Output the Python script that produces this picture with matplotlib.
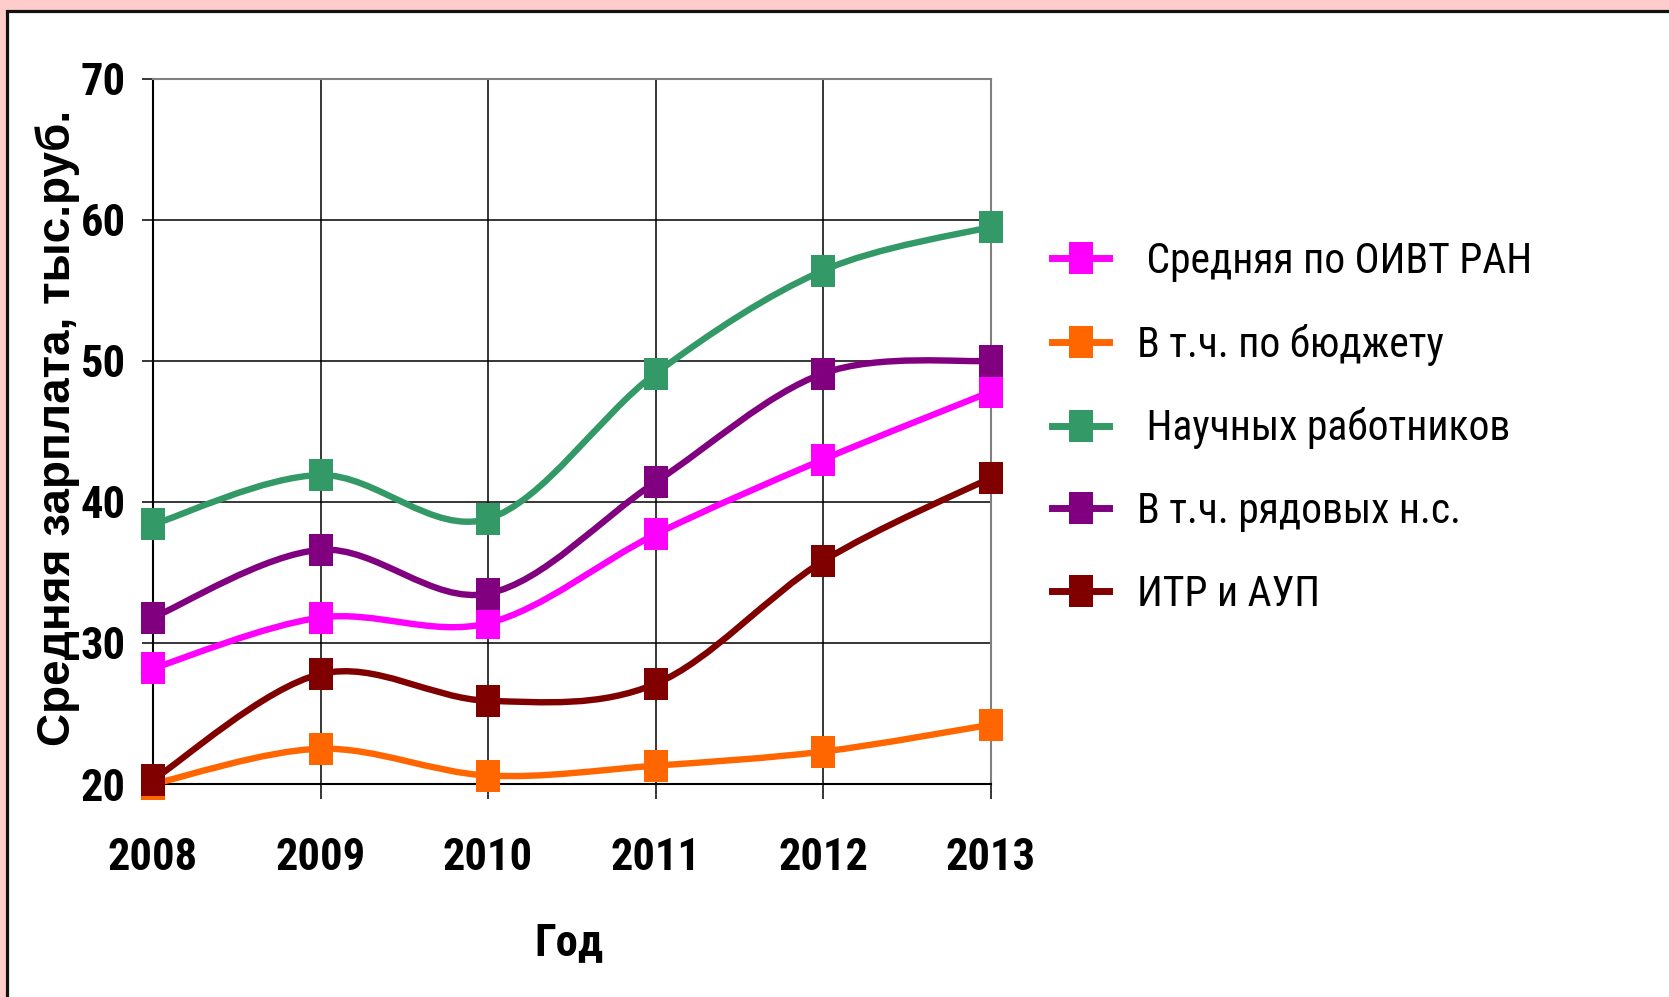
import matplotlib
matplotlib.use("Agg")
import matplotlib.pyplot as plt
from matplotlib.path import Path
from matplotlib.patches import PathPatch, Rectangle
from matplotlib.lines import Line2D
from matplotlib import font_manager

# ---------------- data ----------------
years = [2008, 2009, 2010, 2011, 2012, 2013]
series_names = [" Средняя по ОИВТ РАН", "В т.ч. по бюджету", " Научных работников",
                "В т.ч. рядовых н.с.", "ИТР и АУП"]
avg_oivt = [28.2, 31.8, 31.4, 37.7, 43.0, 47.8]
budget = [20.0, 22.5, 20.6, 21.3, 22.3, 24.2]
scientists = [38.4, 41.9, 38.8, 49.1, 56.4, 59.5]
rank_file = [31.8, 36.6, 33.5, 41.4, 49.1, 50.0]
itr_aup = [20.3, 27.8, 25.9, 27.1, 35.8, 41.7]
series_values = [avg_oivt, budget, scientists, rank_file, itr_aup]
colors = ["#FF00FF", "#FF6600", "#339966", "#800080", "#800000"]
y_ticks = [20, 30, 40, 50, 60, 70]
y_label = "Средняя зарплата, тыс.руб."
x_label = "Год"

# ---------------- fonts ----------------
names = {f.name for f in font_manager.fontManager.ttflist}
NARROW = next((n for n in ["Roboto Condensed", "PT Sans Narrow", "Liberation Sans Narrow"]
               if n in names), "Liberation Sans")
WIDE = "Liberation Sans"

W, H = 1669, 997
fig = plt.figure(figsize=(W / 100, H / 100), dpi=100)
fig.patch.set_facecolor("#FFCCCC")
fig.patches.append(Rectangle((7 / W, -0.1), 1.2, 1 - 11 / H + 0.1, transform=fig.transFigure,
                             facecolor="white", edgecolor="#111111", linewidth=2.3, zorder=-5))

ax = fig.add_axes([153 / W, 1 - 784 / H, (990.5 - 153) / W, (784 - 78.7) / H])
ax.set_facecolor("white")
ax.set_xlim(years[0], years[-1])
ax.set_ylim(y_ticks[0], y_ticks[-1])
ax.set_xticks(years)
ax.set_yticks(y_ticks)
ax.set_axisbelow(True)
ax.grid(True, color="black", linewidth=1.1)
for s in ["left", "bottom"]:
    ax.spines[s].set_color("black")
    ax.spines[s].set_linewidth(1.5)
for s in ["top", "right"]:
    ax.spines[s].set_color("#808080")
    ax.spines[s].set_linewidth(1.5)
ax.tick_params(axis="y", direction="out", length=8, width=1.1, pad=11.5)
ax.tick_params(axis="x", direction="out", length=11, width=1.1, pad=27)
for lab in ax.get_xticklabels() + ax.get_yticklabels():
    lab.set_fontfamily(NARROW)
    lab.set_fontweight("bold")
    lab.set_fontsize(32)


def smooth_path(xs, ys):
    """Excel-like smoothed line: cubic Bezier segments with Catmull-Rom tangents."""
    n = len(xs)
    pts = list(zip(xs, ys))
    verts = [pts[0]]
    codes = [Path.MOVETO]
    for i in range(n - 1):
        p0 = pts[i - 1] if i > 0 else pts[i]
        p1 = pts[i]
        p2 = pts[i + 1]
        p3 = pts[i + 2] if i + 2 < n else pts[i + 1]
        c1 = (p1[0] + (p2[0] - p0[0]) / 6, p1[1] + (p2[1] - p0[1]) / 6)
        c2 = (p2[0] - (p3[0] - p1[0]) / 6, p2[1] - (p3[1] - p1[1]) / 6)
        verts += [c1, c2, p2]
        codes += [Path.CURVE4] * 3
    return Path(verts, codes)


rect = Path([(-0.375, -0.5), (0.375, -0.5), (0.375, 0.5), (-0.375, 0.5), (-0.375, -0.5)],
            [Path.MOVETO, Path.LINETO, Path.LINETO, Path.LINETO, Path.CLOSEPOLY])
LW = 4.6
MS = 23
handles = []
for vals, col in zip(series_values, colors):
    ax.add_patch(PathPatch(smooth_path(years, vals), facecolor="none", edgecolor=col,
                           linewidth=LW, transform=ax.transData, zorder=3, clip_on=False,
                           joinstyle="round", capstyle="round"))
for vals, col in zip(series_values, colors):
    ax.plot(years, vals, linestyle="none", marker=rect, markersize=MS,
            markerfacecolor=col, markeredgecolor=col, markeredgewidth=0,
            zorder=4, clip_on=False)
    handles.append(Line2D([], [], color=col, linewidth=5, marker=rect, markersize=MS,
                          markerfacecolor=col, markeredgewidth=0))

ax.legend(handles, series_names, loc="upper left",
          bbox_to_anchor=(1052 / W, 1 - 241 / H), bbox_transform=fig.transFigure,
          frameon=False, borderpad=0, borderaxespad=0, numpoints=1,
          handlelength=1.37, handletextpad=0.67, labelspacing=1.0,
          prop={"family": NARROW, "size": 30})

ax.set_ylabel(y_label, fontfamily=WIDE, fontweight="bold", fontsize=33)
ax.yaxis.set_label_coords(-0.087, 0.505)
ax.set_xlabel(x_label, fontfamily=NARROW, fontweight="bold", fontsize=32)
ax.xaxis.set_label_coords((569 - 153) / (990.5 - 153), -0.196)

fig.savefig("out.png", dpi=100, facecolor=fig.get_facecolor())
